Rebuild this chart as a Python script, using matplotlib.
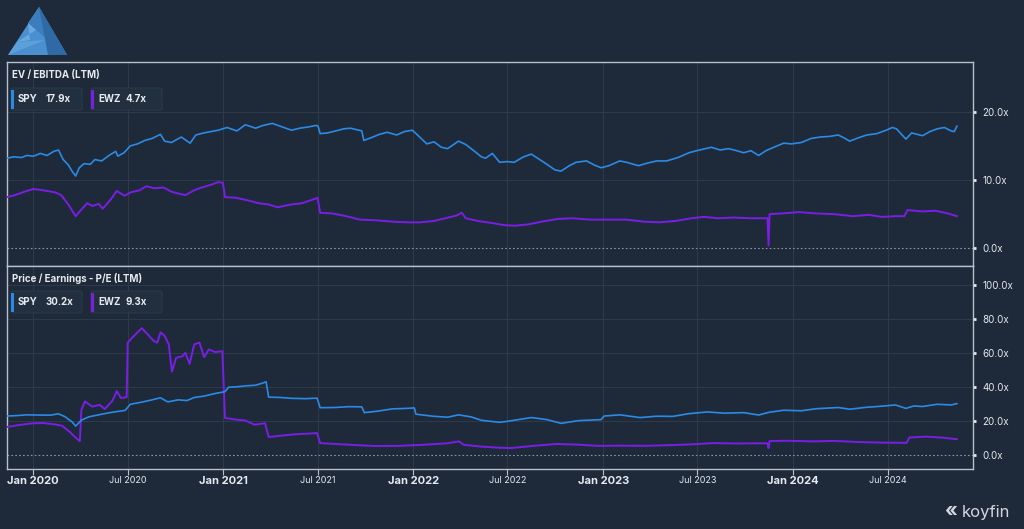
import matplotlib
matplotlib.use("Agg")
import matplotlib.pyplot as plt
import matplotlib.dates as mdates
from matplotlib.patches import Polygon, FancyBboxPatch, Rectangle
import pandas as pd

plt.rcParams['font.family'] = ['Inter', 'DejaVu Sans']

# EV / EBITDA (LTM)
spy_ev_dates = [
    "2019-11-12", "2019-11-25", "2019-12-10", "2019-12-20", "2020-01-02", "2020-01-15",
    "2020-01-28", "2020-02-10", "2020-02-19", "2020-02-28", "2020-03-09", "2020-03-16",
    "2020-03-23", "2020-03-30", "2020-04-08", "2020-04-20", "2020-04-29", "2020-05-12",
    "2020-05-26", "2020-06-08", "2020-06-12", "2020-06-24", "2020-07-06", "2020-07-20",
    "2020-08-03", "2020-08-17", "2020-09-02", "2020-09-10", "2020-09-23", "2020-10-12",
    "2020-10-29", "2020-11-09", "2020-11-24", "2020-12-08", "2020-12-22", "2021-01-08",
    "2021-01-27", "2021-02-12", "2021-03-04", "2021-03-18", "2021-04-05", "2021-04-20",
    "2021-05-12", "2021-05-28", "2021-06-15", "2021-06-28", "2021-07-02", "2021-07-06",
    "2021-07-20", "2021-08-05", "2021-08-20", "2021-09-02", "2021-09-24", "2021-09-28",
    "2021-10-12", "2021-10-28", "2021-11-12", "2021-11-30", "2021-12-15", "2021-12-30",
    "2022-01-05", "2022-01-20", "2022-01-27", "2022-02-10", "2022-02-24", "2022-03-08",
    "2022-03-29", "2022-04-12", "2022-04-29", "2022-05-12", "2022-05-20", "2022-06-02",
    "2022-06-16", "2022-06-30", "2022-07-14", "2022-08-01", "2022-08-16", "2022-09-01",
    "2022-09-13", "2022-09-30", "2022-10-12", "2022-10-28", "2022-11-10", "2022-11-30",
    "2022-12-15", "2022-12-28", "2023-01-12", "2023-02-02", "2023-02-15", "2023-03-10",
    "2023-03-28", "2023-04-14", "2023-05-03", "2023-05-25", "2023-06-15", "2023-07-05",
    "2023-07-28", "2023-08-14", "2023-08-30", "2023-09-15", "2023-09-28", "2023-10-12",
    "2023-10-27", "2023-11-10", "2023-11-28", "2023-12-14", "2023-12-29", "2024-01-17",
    "2024-02-05", "2024-02-22", "2024-03-12", "2024-03-28", "2024-04-10", "2024-04-19",
    "2024-05-06", "2024-05-22", "2024-06-10", "2024-06-28", "2024-07-10", "2024-07-18",
    "2024-08-05", "2024-08-16", "2024-09-06", "2024-09-20", "2024-10-04", "2024-10-18",
    "2024-10-31", "2024-11-06", "2024-11-11",
]
spy_ev = [
    13.2, 13.4, 13.3, 13.6, 13.5, 13.9,
    13.6, 14.2, 14.4, 13.0, 12.2, 11.3,
    10.6, 11.8, 12.4, 12.3, 13.0, 12.8,
    13.6, 14.2, 13.5, 14.0, 15.0, 15.3,
    15.8, 16.1, 16.7, 15.7, 15.5, 16.3,
    15.4, 16.6, 16.9, 17.1, 17.3, 17.7,
    17.2, 18.1, 17.6, 18.0, 18.3, 17.9,
    17.3, 17.6, 17.8, 18.0, 17.9, 16.8,
    16.9, 17.2, 17.5, 17.6, 17.2, 15.8,
    16.2, 16.7, 17.0, 16.6, 17.1, 17.3,
    16.9, 15.8, 15.3, 15.6, 14.8, 14.6,
    15.7, 15.2, 14.2, 13.4, 13.2, 13.9,
    12.6, 12.7, 12.6, 13.4, 13.8, 13.0,
    12.4, 11.5, 11.3, 12.1, 12.6, 12.8,
    12.2, 11.8, 12.1, 12.8, 12.6, 12.1,
    12.5, 12.8, 12.8, 13.3, 14.0, 14.4,
    14.8, 14.4, 14.6, 14.3, 14.0, 14.3,
    13.6, 14.3, 14.9, 15.4, 15.3, 15.5,
    16.1, 16.3, 16.4, 16.6, 16.1, 15.7,
    16.2, 16.6, 16.8, 17.3, 17.7, 17.5,
    16.0, 16.9, 16.5, 17.1, 17.5, 17.7,
    17.2, 17.1, 17.9,
]

ewz_ev_dates = [
    "2019-11-12", "2019-11-28", "2019-12-16", "2020-01-02", "2020-01-20", "2020-02-12",
    "2020-02-24", "2020-03-09", "2020-03-23", "2020-04-01", "2020-04-14", "2020-04-24",
    "2020-05-06", "2020-05-14", "2020-05-29", "2020-06-10", "2020-06-25", "2020-07-07",
    "2020-07-24", "2020-08-06", "2020-08-20", "2020-09-08", "2020-09-23", "2020-10-07",
    "2020-10-20", "2020-11-06", "2020-11-20", "2020-12-08", "2020-12-22", "2020-12-31",
    "2021-01-04", "2021-01-25", "2021-02-18", "2021-03-10", "2021-03-30", "2021-04-15",
    "2021-05-10", "2021-06-01", "2021-06-28", "2021-07-01", "2021-07-06", "2021-07-30",
    "2021-08-25", "2021-09-20", "2021-10-20", "2021-11-22", "2021-12-20", "2022-01-14",
    "2022-02-10", "2022-03-04", "2022-03-25", "2022-04-04", "2022-04-12", "2022-05-05",
    "2022-06-01", "2022-06-24", "2022-07-14", "2022-08-10", "2022-09-05", "2022-10-06",
    "2022-11-04", "2022-12-05", "2023-01-10", "2023-02-15", "2023-03-20", "2023-04-20",
    "2023-05-20", "2023-06-20", "2023-07-14", "2023-08-10", "2023-09-08", "2023-10-10",
    "2023-11-06", "2023-11-13", "2023-11-15", "2023-11-17", "2023-12-10", "2024-01-12",
    "2024-02-15", "2024-03-20", "2024-04-25", "2024-05-25", "2024-06-20", "2024-07-15",
    "2024-08-02", "2024-08-08", "2024-09-06", "2024-10-01", "2024-10-25", "2024-11-11",
]
ewz_ev = [
    7.5, 7.8, 8.3, 8.7, 8.5, 8.2,
    7.8, 6.4, 4.7, 5.5, 6.6, 6.2,
    6.5, 5.8, 7.1, 8.4, 7.7, 8.2,
    8.5, 9.1, 8.8, 8.9, 8.3, 8.0,
    7.8, 8.5, 8.9, 9.3, 9.7, 9.6,
    7.5, 7.4, 7.0, 6.6, 6.4, 6.0,
    6.4, 6.6, 7.3, 7.4, 5.2, 5.1,
    4.7, 4.2, 4.1, 3.9, 3.8, 3.8,
    4.0, 4.4, 4.8, 5.2, 4.4, 4.0,
    3.7, 3.4, 3.3, 3.5, 3.9, 4.3,
    4.4, 4.2, 4.2, 4.2, 3.9, 3.8,
    4.0, 4.4, 4.6, 4.4, 4.5, 4.4,
    4.4, 4.4, 0.4, 5.0, 5.1, 5.3,
    5.1, 5.0, 4.7, 4.9, 4.6, 4.7,
    4.7, 5.6, 5.4, 5.5, 5.1, 4.7,
]

# Price / Earnings - P/E (LTM)
spy_pe_dates = [
    "2019-11-12", "2019-12-02", "2019-12-20", "2020-01-10", "2020-02-03", "2020-02-19",
    "2020-03-02", "2020-03-16", "2020-03-23", "2020-04-03", "2020-04-17", "2020-05-06",
    "2020-05-26", "2020-06-12", "2020-06-26", "2020-07-06", "2020-07-27", "2020-08-14",
    "2020-09-02", "2020-09-16", "2020-10-06", "2020-10-23", "2020-11-06", "2020-11-25",
    "2020-12-14", "2021-01-04", "2021-01-11", "2021-01-28", "2021-02-12", "2021-03-04",
    "2021-03-19", "2021-03-24", "2021-03-29", "2021-04-20", "2021-05-12", "2021-06-08",
    "2021-06-30", "2021-07-06", "2021-08-02", "2021-08-30", "2021-09-24", "2021-09-29",
    "2021-10-25", "2021-11-22", "2021-12-20", "2022-01-03", "2022-01-06", "2022-02-07",
    "2022-03-08", "2022-03-29", "2022-04-22", "2022-05-12", "2022-06-16", "2022-07-01",
    "2022-08-16", "2022-09-15", "2022-10-12", "2022-11-15", "2022-12-28", "2023-01-03",
    "2023-02-02", "2023-03-13", "2023-04-14", "2023-05-15", "2023-06-15", "2023-07-20",
    "2023-08-22", "2023-09-28", "2023-10-27", "2023-11-16", "2023-12-14", "2024-01-17",
    "2024-02-15", "2024-03-28", "2024-04-19", "2024-05-20", "2024-06-20", "2024-07-16",
    "2024-08-05", "2024-08-20", "2024-09-06", "2024-10-04", "2024-10-31", "2024-11-11",
]
spy_pe = [
    22.9, 23.2, 23.6, 23.5, 23.4, 24.2,
    22.6, 19.5, 17.0, 20.5, 22.4, 23.6,
    24.8, 25.6, 26.2, 29.8, 31.0, 32.2,
    33.6, 31.2, 32.4, 32.0, 33.8, 34.6,
    36.0, 37.2, 39.8, 40.1, 40.6, 41.0,
    42.4, 43.0, 34.0, 33.8, 33.3, 33.1,
    33.4, 27.8, 27.9, 28.4, 28.3, 24.9,
    25.8, 27.1, 27.4, 27.7, 24.0, 22.8,
    22.2, 23.6, 22.4, 20.4, 19.2, 19.8,
    22.0, 20.8, 18.6, 20.2, 20.8, 22.9,
    23.6, 22.0, 22.8, 22.7, 24.3, 25.3,
    24.6, 24.9, 23.5, 25.1, 26.3, 26.0,
    27.2, 27.9, 26.9, 28.0, 28.7, 29.4,
    27.4, 28.8, 28.5, 29.8, 29.4, 30.2,
]

ewz_pe_dates = [
    "2019-11-12", "2019-12-05", "2019-12-30", "2020-01-20", "2020-02-12", "2020-02-26",
    "2020-03-12", "2020-03-23", "2020-03-31", "2020-04-03", "2020-04-10", "2020-04-24",
    "2020-05-08", "2020-05-18", "2020-06-02", "2020-06-10", "2020-06-18", "2020-06-29",
    "2020-07-01", "2020-07-10", "2020-07-28", "2020-08-05", "2020-08-20", "2020-08-27",
    "2020-09-02", "2020-09-10", "2020-09-18", "2020-09-24", "2020-10-02", "2020-10-14",
    "2020-10-20", "2020-10-28", "2020-11-06", "2020-11-16", "2020-11-25", "2020-12-04",
    "2020-12-16", "2020-12-30", "2021-01-04", "2021-01-25", "2021-02-12", "2021-03-02",
    "2021-03-22", "2021-03-29", "2021-04-26", "2021-05-20", "2021-06-15", "2021-06-30",
    "2021-07-06", "2021-08-10", "2021-09-15", "2021-10-20", "2021-12-06", "2022-01-20",
    "2022-03-07", "2022-03-30", "2022-04-08", "2022-05-10", "2022-06-15", "2022-07-08",
    "2022-08-20", "2022-10-04", "2022-11-14", "2022-12-20", "2023-02-01", "2023-03-20",
    "2023-05-10", "2023-06-20", "2023-08-01", "2023-09-10", "2023-11-06", "2023-11-13",
    "2023-11-15", "2023-11-17", "2023-12-20", "2024-02-06", "2024-03-20", "2024-05-08",
    "2024-06-20", "2024-07-25", "2024-08-06", "2024-08-12", "2024-09-12", "2024-10-15",
    "2024-11-11",
]
ewz_pe = [
    16.5, 17.6, 18.6, 18.8, 18.0, 17.2,
    13.5, 10.2, 8.2, 26.5, 31.5, 28.4,
    29.5, 27.0, 32.0, 37.5, 33.5, 34.0,
    66.0, 69.0, 74.5, 72.0, 67.0, 66.0,
    72.0, 70.0, 65.0, 49.0, 57.0, 58.0,
    60.0, 53.5, 65.0, 66.0, 57.5, 62.0,
    60.5, 61.0, 21.8, 20.8, 20.3, 17.8,
    18.7, 10.6, 11.5, 12.2, 12.6, 12.9,
    7.0, 6.4, 5.8, 5.3, 5.4, 6.0,
    6.9, 8.0, 6.0, 5.0, 4.3, 4.1,
    5.4, 6.5, 6.1, 5.4, 5.5, 5.4,
    5.8, 6.3, 7.0, 6.8, 6.9, 6.8,
    4.0, 8.2, 8.4, 8.0, 8.3, 7.6,
    7.3, 7.2, 7.1, 10.3, 10.8, 10.2,
    9.3,
]

panel_titles = ["EV / EBITDA (LTM)", "Price / Earnings - P/E (LTM)"]
legend_values = [("17.9x", "4.7x"), ("30.2x", "9.3x")]
ev_ticks = [0, 10, 20]
pe_ticks = [0, 20, 40, 60, 80, 100]

BG = "#1e2a39"
GRID = "#2e3a4a"
FRAME = "#b9c0c9"
TEXT = "#e6e9ee"
SPY_C = "#2b8ae6"
EWZ_C = "#7a1ee6"

fig = plt.figure(figsize=(10.24, 5.29), dpi=100, facecolor=BG)

L, R = 7 / 1024, 973 / 1024
y_top, y_mid, y_bot = 1 - 62 / 529, 1 - 266 / 529, 1 - 469 / 529
ax1 = fig.add_axes([L, y_mid, R - L, y_top - y_mid])
ax2 = fig.add_axes([L, y_bot, R - L, y_mid - y_bot], sharex=ax1)

xmin, xmax = pd.Timestamp("2019-11-12"), pd.Timestamp("2024-12-12")

panels = [
    (ax1, (spy_ev_dates, spy_ev), (ewz_ev_dates, ewz_ev), ev_ticks, (-2.6, 27.3)),
    (ax2, (spy_pe_dates, spy_pe), (ewz_pe_dates, ewz_pe), pe_ticks, (-8.2, 111)),
]

jan_ticks = pd.date_range("2020-01-01", "2024-01-01", freq="YS")
jul_ticks = pd.date_range("2020-07-01", "2024-07-01", freq="12MS")

for ax, spy, ewz, yt, ylim in panels:
    ax.set_facecolor(BG)
    ax.plot(pd.to_datetime(ewz[0]), ewz[1], color=EWZ_C, lw=1.4, zorder=3)
    ax.plot(pd.to_datetime(spy[0]), spy[1], color=SPY_C, lw=1.2, zorder=4)
    ax.set_xlim(xmin, xmax)
    ax.set_ylim(*ylim)
    ax.yaxis.tick_right()
    ax.set_yticks(yt)
    ax.set_yticklabels([f"{v:.1f}x" for v in yt])
    ax.tick_params(axis="y", colors=TEXT, labelsize=7, length=2, width=2, pad=5)
    for v in yt:
        if v == 0:
            ax.axhline(v, color="#8b95a2", lw=0.8, ls=(0, (1.5, 2)), zorder=2)
        else:
            ax.axhline(v, color=GRID, lw=0.8, zorder=1)
    for d in list(jan_ticks) + list(jul_ticks):
        ax.axvline(d, color=GRID, lw=0.8, zorder=1)
    for s in ax.spines.values():
        s.set_color(FRAME)
        s.set_linewidth(1.0)

ax1.tick_params(axis="x", bottom=False, labelbottom=False)
ax2.set_xticks(list(jan_ticks) + list(jul_ticks))
ax2.set_xticklabels([])
ax2.tick_params(axis="x", colors=FRAME, length=4, width=0.8)
for d in jan_ticks:
    ax2.text(d, -0.035, d.strftime("Jan %Y"), transform=ax2.get_xaxis_transform(),
             ha="center", va="top", color=TEXT, fontsize=8, fontweight="bold")
for d in jul_ticks:
    ax2.text(d, -0.035, d.strftime("Jul %Y"), transform=ax2.get_xaxis_transform(),
             ha="center", va="top", color=TEXT, fontsize=6.5)

# panel titles and legend chips
for ax, title, vals, ytitle, ychip in [(ax1, panel_titles[0], legend_values[0], 75, 99),
                                       (ax2, panel_titles[1], legend_values[1], 278, 302)]:
    fig.text(12 / 1024, 1 - ytitle / 529, title, color=TEXT, fontsize=7,
             fontweight="bold", va="center", ha="left")
    for x0, name, val, col in [(11, "SPY", vals[0], SPY_C), (91, "EWZ", vals[1], EWZ_C)]:
        box = FancyBboxPatch((x0 / 1024, 1 - (ychip + 11) / 529), 71 / 1024, 22 / 529,
                             boxstyle="round,pad=0,rounding_size=0.002",
                             transform=fig.transFigure, facecolor="#222f3f",
                             edgecolor="#2c3949", lw=0.8, zorder=5)
        fig.patches.append(box)
        bar = Rectangle((x0 / 1024, 1 - (ychip + 9.5) / 529), 2.5 / 1024, 19 / 529,
                        transform=fig.transFigure, facecolor=col, edgecolor="none", zorder=6)
        fig.patches.append(bar)
        fig.text((x0 + 7) / 1024, 1 - ychip / 529, name, color=TEXT, fontsize=7,
                 fontweight="bold", va="center", ha="left", zorder=7)
        fig.text((x0 + 35) / 1024, 1 - ychip / 529, val, color=TEXT, fontsize=7,
                 fontweight="bold", va="center", ha="left", zorder=7)

# logo top-left
def fpoly(pts, color):
    p = Polygon([(x / 1024, 1 - y / 529) for x, y in pts], closed=True,
                transform=fig.transFigure, facecolor=color, edgecolor="none")
    fig.patches.append(p)

fpoly([(39, 7), (67, 55), (8, 55)], "#4a8fcf")
fpoly([(39, 7), (28, 23), (36, 30), (67, 55)], "#3c7dbd")
fpoly([(28, 23), (36, 30), (17, 42), (30, 40)], "#6aa8e0")
fpoly([(17, 42), (45, 40), (8, 55)], "#5d9fd9")
fpoly([(39, 7), (67, 55), (48, 55)], "#2f6aa6")

# koyfin mark bottom-right
fig.text(957 / 1024, 1 - 512 / 529, "«", color="#d4d8de", fontsize=14,
         fontweight="bold", ha="right", va="center")
fig.text(962 / 1024, 1 - 512 / 529, "koyfin", color="#d4d8de", fontsize=12,
         ha="left", va="center")

fig.savefig("out.png", dpi=100, facecolor=BG)
